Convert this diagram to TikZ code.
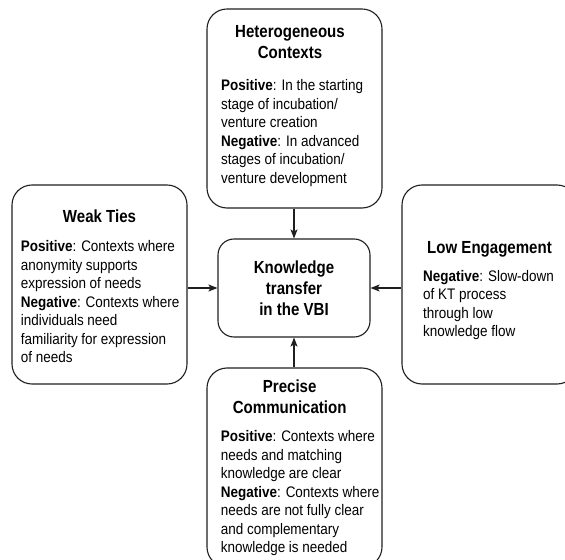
\documentclass[tikz,border=0pt]{standalone}
\usepackage{fontspec}
\setmainfont{Liberation Sans}[FakeStretch=0.88]
\newfontfamily\ttlfont{Liberation Sans}[FakeStretch=0.86]
\usetikzlibrary{arrows.meta}
\newcommand{\bodysize}{\fontsize{15.3bp}{18.5bp}\selectfont}
\newcommand{\ttlsize}{\ttlfont\bfseries\fontsize{17.5bp}{21bp}\selectfont}
\begin{document}
\begin{tikzpicture}[x=1bp,y=-1bp,
  frame/.style={draw=black!88, line width=1.1bp, rounded corners=20bp, inner sep=0pt,
    minimum width=175bp, minimum height=199bp},
  core/.style={draw=black!88, line width=1.1bp, rounded corners=16bp, inner sep=0pt,
    minimum width=152bp, minimum height=98bp, align=center, font=\ttlsize},
  heading/.style={inner sep=0pt, align=center, font=\ttlsize},
  body/.style={inner sep=0pt, align=left, font=\bodysize, anchor=north west},
  arr/.style={draw=black!88, line width=1.1bp, -{Stealth[length=9bp,width=7bp,inset=2bp]}}]
\useasboundingbox (0,0) rectangle (565,560);
\clip (0,0) rectangle (565,560);
\fill[white] (0,0) rectangle (565,560);

% the five boxes
\node[frame] (het) at (294.5,108.5) {};
\node[frame] (weak) at (99.5,284.5) {};
\node[frame] (low) at (489.5,284.5) {};
\node[frame] (prec) at (294.5,467.5) {};
\node[core] (kt) at (294,288) {Knowledge\\transfer\\in the VBI};

% texts of the boxes
\node[heading, anchor=north] (hett) at (290,25) {Heterogeneous\\Contexts};
\node[body] (hetb) at (221,79.5) {\textbf{Positive}: In the starting\\stage of incubation/\\venture creation\\\textbf{Negative}: In advanced\\stages of incubation/\\venture development};

\node[heading, anchor=base] (weakt) at (99.5,222.7) {Weak Ties};
\node[body] (weakb) at (20.7,240.6) {\textbf{Positive}: Contexts where\\anonymity supports\\expression of needs\\\textbf{Negative}: Contexts where\\individuals need\\familiarity for expression\\of needs};

\node[heading, anchor=base] (lowt) at (489.5,253) {Low Engagement};
\node[body] (lowb) at (423,270) {\textbf{Negative}: Slow-down\\of KT process\\through low\\knowledge flow};

\node[heading, anchor=north] (prect) at (289.7,379.4) {Precise\\Communication};
\node[body] (precb) at (220.7,430.6) {\textbf{Positive}: Contexts where\\needs and matching\\knowledge are clear\\\textbf{Negative}: Contexts where\\needs are not fully clear\\and complementary\\knowledge is needed};

% connectors into the centre box
\draw[arr] (het.south -| kt.north) -- (kt.north);
\draw[arr] (prec.north -| kt.south) -- (kt.south);
\draw[arr] (weak.east |- kt.west) -- (kt.west);
\draw[arr] (low.west |- kt.east) -- (kt.east);
\end{tikzpicture}
\end{document}
